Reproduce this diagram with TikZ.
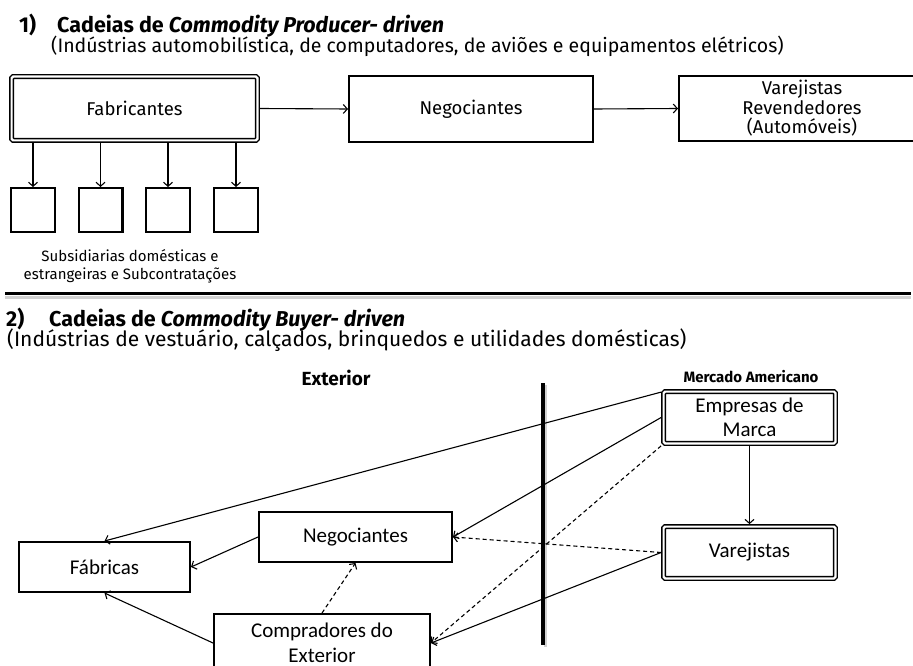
\documentclass[tikz,border=0pt]{standalone}
\usepackage{fontspec}
\setmainfont{Fira Sans}
\newfontfamily\calf{Carlito}
\usetikzlibrary{arrows.meta}

\begin{document}
\begin{tikzpicture}[x=1pt,y=-1pt,
  conn/.style={line width=1.1pt, -{Straight Barb[length=4pt,width=9pt]}},
  dconn/.style={conn, dash pattern=on 4pt off 3pt},
  sbox/.style={draw, line width=2.4pt, inner sep=0pt, align=center},
  dbox/.style={draw, line width=1.4pt, double, double distance=2.2pt,
    rounded corners=1.5pt, inner sep=0pt, outer sep=2.5pt, align=center},
  toptext/.style={font=\fontsize{18.5}{19.5}\selectfont},
  bottext/.style={font=\calf\fontsize{21}{24.5}\selectfont},
  title/.style={anchor=base west, inner sep=0pt, font=\bfseries\fontsize{21.5}{22}\selectfont},
  subtitle/.style={anchor=base west, inner sep=0pt, font=\fontsize{19.5}{22}\selectfont},
  region/.style={anchor=base, inner sep=0pt, font=\bfseries\fontsize{19}{19}\selectfont},
]
\useasboundingbox (0,0) rectangle (913,666);
\fill[white] (0,0) rectangle (913,666);

% ---------- part 1: producer-driven chains ----------
\node[title] (n1) at (19,33) {1)};
\node[title] (t1) at (57,33) {Cadeias de \textit{Commodity Producer- driven}};
\node[subtitle] (s1) at (51,53) {(Indústrias automobilística, de computadores, de aviões e equipamentos elétricos)};

\node[dbox, toptext, minimum width=245.8pt, minimum height=63.8pt] (fab) at (134.5,108.5) {Fabricantes};
\node[sbox, toptext, minimum width=243.6pt, minimum height=65.6pt] (neg1) at (471,109) {Negociantes};
\node[sbox, toptext, minimum width=245.6pt, minimum height=64.6pt] (var1) at (802,108.5)
  {Varejistas\\Revendedores\\(Automóveis)};

\draw[conn] (fab.east) -- (neg1.west);
\draw[conn] (neg1.east) -- (var1.west);

\foreach \i/\x in {1/33,2/100.5,3/168,4/236}{
  \node[sbox, minimum width=43.6pt, minimum height=43.6pt] (sub\i) at (\x,210) {};
  \draw[conn] (fab.south -| sub\i.north) -- (sub\i.north);
}
\node[align=center, inner sep=0pt, font=\fontsize{15}{18}\selectfont] (cap) at (130,266)
  {Subsidiarias domésticas e\\estrangeiras e Subcontratações};

% separator
\draw[line width=3pt, gray!35] (5,297) -- (911,297);
\draw[line width=3.5pt] (5,293.5) -- (911,293.5);

% ---------- part 2: buyer-driven chains ----------
\node[title] (n2) at (6,326) {2)};
\node[title] (t2) at (49,326) {Cadeias de \textit{Commodity Buyer- driven}};
\node[subtitle, font=\fontsize{21}{22}\selectfont] (s2) at (7,346) {(Indústrias de vestuário, calçados, brinquedos e utilidades domésticas)};

\node[region] (ext) at (336,385) {Exterior};
\node[region, font=\bfseries\fontsize{15}{18}\selectfont] (mer) at (751,382) {Mercado Americano};

% border between foreign and American market
\draw[line width=3pt, gray!35] (545.5,385) -- (545.5,647);
\draw[line width=4pt] (543,383) -- (543,645);

\node[dbox, bottext, minimum width=171.8pt, minimum height=51.8pt] (emp) at (749.5,417.5) {Empresas de\\Marca};
\node[dbox, bottext, minimum width=171.8pt, minimum height=51.8pt] (var2) at (749.5,552.5) {Varejistas};
\node[sbox, bottext, minimum width=170.6pt, minimum height=49.6pt] (fabr) at (104.5,567) {Fábricas};
\node[sbox, bottext, minimum width=192.6pt, minimum height=49.6pt] (neg2) at (355.5,537) {Negociantes};
\node[sbox, bottext, minimum width=215.6pt, minimum height=57.6pt] (comp) at (322,643) {Compradores do\\Exterior};

\draw[conn] (emp.south) -- (var2.north);
\draw[conn] ([yshift=-3pt]emp.north west) -- (fabr.north);
\draw[conn] (emp.west) -- (neg2.east);
\draw[dconn] (emp.south west) -- (comp.east);
\draw[dconn] (var2.west) -- (neg2.east);
\draw[conn] (var2.west) -- (comp.east);
\draw[conn] (neg2.west) -- (fabr.east);
\draw[conn] (comp.west) -- (fabr.south);
\draw[dconn] (comp.north) -- (neg2.south);
\end{tikzpicture}
\end{document}
